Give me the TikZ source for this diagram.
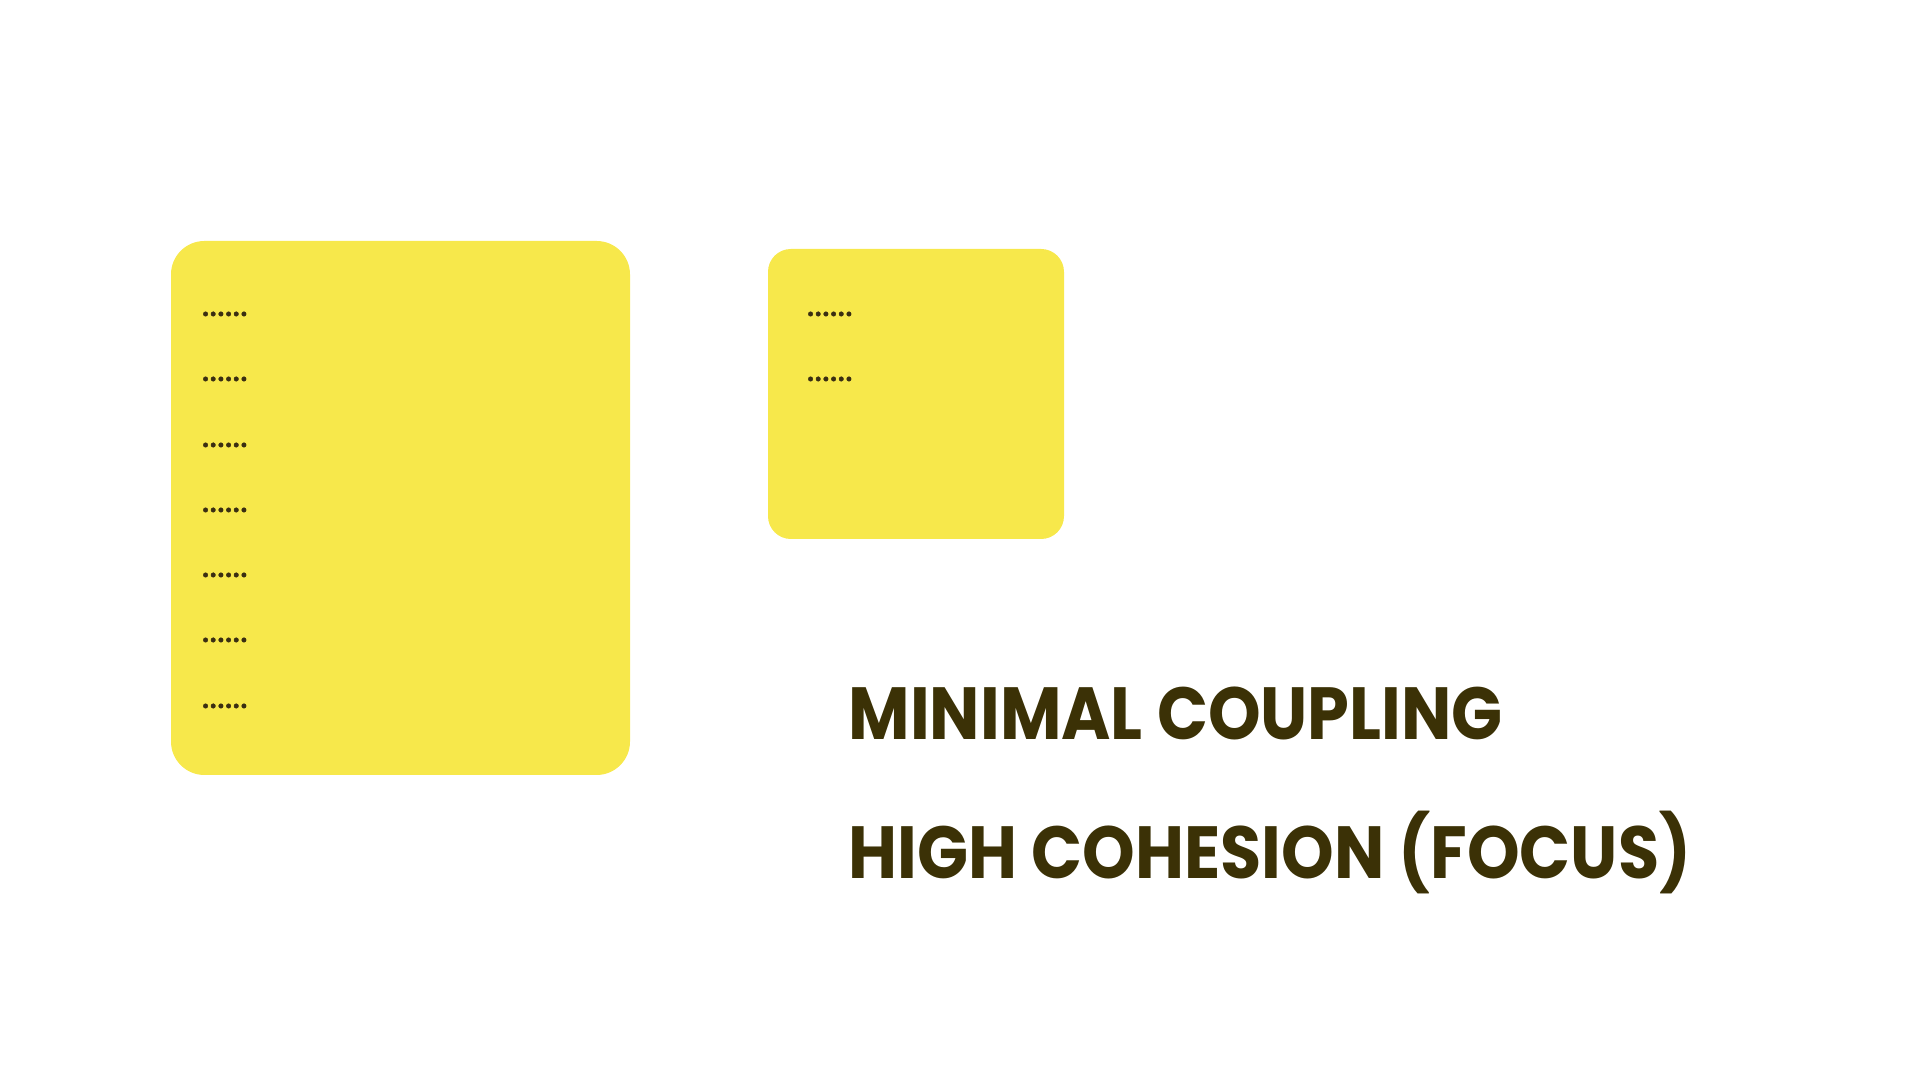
\documentclass[tikz,border=0pt]{standalone}
\usepackage{fontspec}
\setmainfont{Poppins}
\newfontfamily\titlefont{Poppins}[FakeStretch=0.907]
\newfontfamily\dotfont{Poppins}[FakeBold=1.2]
\definecolor{sticky}{HTML}{F7E84B}
\definecolor{ink}{HTML}{3B3106}
\definecolor{dotink}{HTML}{3A2E12}
\begin{document}
\begin{tikzpicture}[x=0.01cm,y=-0.01cm,
  card/.style={fill=sticky,draw=none},
  dots/.style={anchor=west,inner sep=0pt,text=dotink,font=\dotfont\fontsize{10.4pt}{11pt}\selectfont},
  title/.style={anchor=base west,inner sep=0pt,text=ink,font=\titlefont\bfseries\fontsize{21pt}{24pt}\selectfont}]
\useasboundingbox (0,0) rectangle (1920,1080);
\fill[card,rounded corners=9.5pt] (171,241) rectangle (630,775);
\fill[card,rounded corners=6.5pt] (768,249) rectangle (1064,539);
\foreach \y [count=\i] in {313,378,444,509,574,639,705}
  \node[dots] (b\i) at (201,\y+1) {......};
\foreach \y [count=\i] in {313,378}
  \node[dots] (s\i) at (806,\y+1) {......};
\node[title] (t1) at (848,740) {MINIMAL COUPLING};
\node[title] (t2) at (848,879) {HIGH COHESION (FOCUS)};
\end{tikzpicture}
\end{document}
